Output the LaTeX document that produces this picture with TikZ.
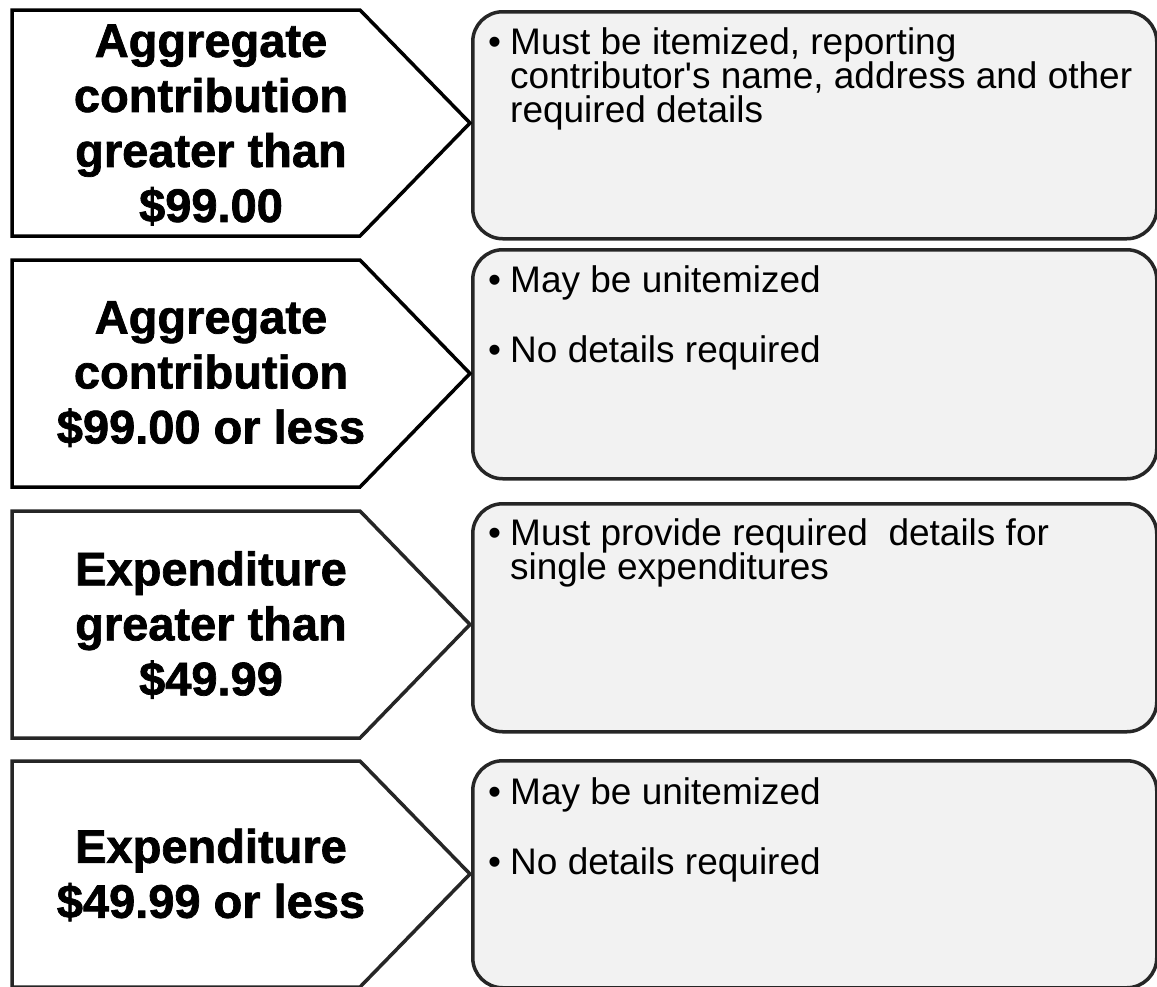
\documentclass[tikz,border=0pt]{standalone}
\usepackage{fontspec}
\setmainfont{Liberation Sans}
\newfontfamily\heavy[BoldFeatures={FakeBold=1.5}]{Liberation Sans}
\newcommand\bulmark{\makebox[22pt][l]{•}}
\newcommand\bodytext[1]{\vtop{\hsize=660pt\parindent=0pt\parskip=36pt\fontsize{37}{34}\selectfont\lineskiplimit=-100pt\lineskip=0pt #1}}
\newcommand\bitem[1]{\hangindent=22pt\hangafter=1\noindent\bulmark #1\par}
\begin{document}
\begin{tikzpicture}[x=1pt,y=-1pt,
  arrowshape/.style={draw=black, line width=3.5pt, fill=white, line join=miter},
  infobox/.style={draw=black!85, line width=3.5pt, fill=black!5, rounded corners=30pt,
    minimum width=684pt, minimum height=227pt, anchor=north west, inner sep=0pt},
  label/.style={font=\heavy\bfseries\fontsize{47}{55}\selectfont, align=center, inner sep=0pt},
  body/.style={anchor=base west, inner sep=0pt}]
\useasboundingbox (0,0) rectangle (1157,986);
\fill[white] (0,0) rectangle (1157,986);

% right boxes
\node[infobox] (box1) at (471,10) {};
\node[infobox, minimum height=229pt] (box2) at (471,248) {};
\node[infobox, minimum height=228pt] (box3) at (471,502) {};
\node[infobox] (box4) at (471,759) {};

% left arrows
\draw[arrowshape] (12,10) -- (360,10) -- (470,123) -- (360,236) -- (12,236) -- cycle;
\draw[arrowshape] (12,260) -- (360,260) -- (470,373.5) -- (360,487) -- (12,487) -- cycle;
\draw[arrowshape, draw=black!85] (12,511) -- (360,511) -- (470,624.5) -- (360,738) -- (12,738) -- cycle;
\draw[arrowshape, draw=black!85] (12,761) -- (360,761) -- (470,874) -- (360,987) -- (12,987) -- cycle;

% labels
\node[label] (l1) at (211,125) {Aggregate\\contribution\\greater than\\\$99.00};
\node[label] (l2) at (211,374) {Aggregate\\contribution\\\$99.00 or less};
\node[label] (l3) at (211,625) {Expenditure\\greater than\\\$49.99};
\node[label] (l4) at (211,875) {Expenditure\\\$49.99 or less};

% body texts
\node[body] (t1) at (488,54) {\bodytext{\bitem{Must be itemized, reporting\hfil\break contributor\textquotesingle s name, address and other\hfil\break required details}}};
\node[body] (t2) at (488,292) {\bodytext{\bitem{May be unitemized}\bitem{No details required}}};
\node[body] (t3) at (488,545) {\bodytext{\bitem{Must provide required\ \ details for\hfil\break single expenditures}}};
\node[body] (t4) at (488,804) {\bodytext{\bitem{May be unitemized}\bitem{No details required}}};
\end{tikzpicture}
\end{document}
